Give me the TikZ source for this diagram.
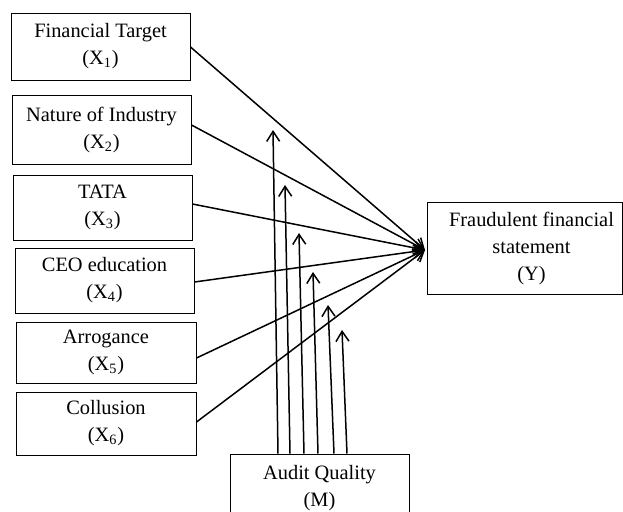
\documentclass[tikz,border=0pt]{standalone}
\usepackage{fontspec}
\setmainfont{Liberation Serif}
\usetikzlibrary{arrows.meta,calc}
\begin{document}
\begin{tikzpicture}[x=0.5pt,y=-0.5pt,
  box/.style={draw, line width=0.5pt, inner sep=0pt, align=center,
    font=\fontsize{10.2pt}{13.5pt}\selectfont},
  xbox/.style={box, minimum width=89.5pt},
  link/.style={line width=0.75pt, -{Straight Barb[length=5pt,width=6.5pt]}}
]
\useasboundingbox (0,0) rectangle (623,511);
\clip (0,0) rectangle (623,511);
% predictor boxes
\node[xbox, minimum height=33.5pt] (x1) at (100.5,46.5) {Financial Target\\(X\textsubscript{1})};
\node[xbox, minimum height=34.5pt] (x2) at (101.5,129.5) {Nature of Industry\\(X\textsubscript{2})};
\node[xbox, minimum height=32.5pt] (x3) at (102.5,207.5) {TATA\\(X\textsubscript{3})};
\node[xbox, minimum height=32.5pt] (x4) at (104.5,280.5) {CEO education\\(X\textsubscript{4})};
\node[xbox, minimum width=90pt, minimum height=30.5pt] (x5) at (106,352.5) {Arrogance\\(X\textsubscript{5})};
\node[xbox, minimum width=90pt, minimum height=31.5pt] (x6) at (106,423.5) {Collusion\\(X\textsubscript{6})};
% outcome box
\node[box, minimum width=97.5pt, minimum height=46pt] (y) at (524.5,248)
  {\hspace*{7pt}Fraudulent financial\\\hspace*{7pt}statement\\\hspace*{7pt}(Y)};
% moderator box (cut off at the bottom)
\node[box, minimum width=89.5pt, minimum height=34pt] (m) at (319.5,488) {Audit Quality\\(M)};
% convergence point
\coordinate (t) at (425,250);
\draw[link] ($(x1.east)+(0,0.5)$) -- (t);
\draw[link] ($(x2.east)+(0,-4.5)$) -- (t);
\draw[link] ($(x3.east)+(0,-3.5)$) -- (t);
\draw[link] ($(x4.east)+(0,1.5)$) -- (t);
\draw[link] ($(x5.east)+(0,5.5)$) -- (t);
\draw[link] ($(x6.east)+(0,-1.5)$) -- (t);
% moderating arrows
\coordinate (a1) at (273,130);
\coordinate (a2) at (285,185);
\coordinate (a3) at (299,233);
\coordinate (a4) at (313,272);
\coordinate (a5) at (328,305);
\coordinate (a6) at (342,330);
\draw[link] ($(m.north)+(-41.5,0)$) -- (a1);
\draw[link] ($(m.north)+(-29.5,0)$) -- (a2);
\draw[link] ($(m.north)+(-15.5,0)$) -- (a3);
\draw[link] ($(m.north)+(-1.5,0)$) -- (a4);
\draw[link] ($(m.north)+(14.5,0)$) -- (a5);
\draw[link] ($(m.north)+(27.5,0)$) -- (a6);
\end{tikzpicture}
\end{document}
